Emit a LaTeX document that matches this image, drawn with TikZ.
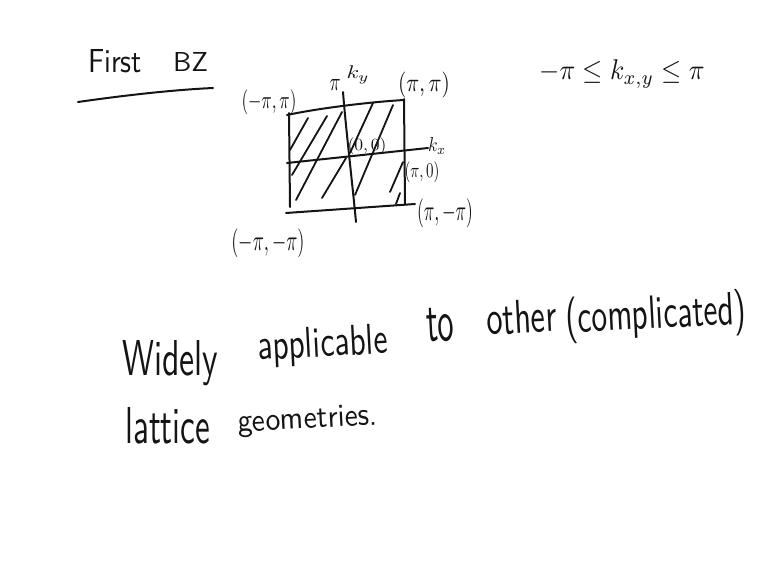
\documentclass[tikz,border=0pt]{standalone}
\usepackage{graphicx}
\newcommand{\hwword}[3]{\resizebox{#1pt}{#2pt}{\sffamily #3}}
\newcommand{\hwmath}[3]{\resizebox*{#1pt}{#2pt}{$#3$}}
\begin{document}
\begin{tikzpicture}[x=1pt,y=-1pt,
  ink/.style={draw=black!92,line width=2pt,line cap=round,line join=round},
  hatch/.style={draw=black!92,line width=1.8pt,line cap=round},
  word/.style={inner sep=0pt,anchor=base west,text=black!92},
  lab/.style={inner sep=0pt,anchor=center,text=black!92}]
\useasboundingbox[fill=white] (0,0) rectangle (768,578);

% title
\node[word] (first) at (88,73) {\hwword{54}{23}{First}};
\node[word] (bz) at (173,72) {\hwword{35}{19}{BZ}};
\draw[ink] (78,102) .. controls (120,96) and (170,90) .. (213,88);

% range formula
\node[lab] (range) at (622,74) {\hwmath{165}{28}{-\pi \le k_{x,y} \le \pi}};

% Brillouin zone box
\draw[ink] (287,115) .. controls (320,108) and (370,102) .. (404,100);
\draw[ink] (289,113) -- (290,207);
\draw[ink] (404,99) -- (405,204);
\draw[ink] (286,213) -- (415,204);
\draw[ink] (287,163) -- (428,148);
\draw[ink] (343,92) .. controls (346,130) and (352,180) .. (356,222);

% hatching
\draw[hatch] (290,150) -- (308,118);
\draw[hatch] (292,175) -- (327,116);
\draw[hatch] (296,200) -- (342,112);
\draw[hatch] (322,198) -- (346,158);
\draw[hatch] (350,153) -- (373,103);
\draw[hatch] (355,195) -- (393,105);
\draw[hatch] (390,192) -- (403,162);
\draw[hatch] (396,204) -- (400,193);

% labels
\node[lab] (mpp) at (269,102) {\hwmath{55}{25}{(-\pi,\pi)}};
\node[lab] (pp) at (424,85) {\hwmath{52}{26}{(\pi,\pi)}};
\node[lab] (piy) at (335,85) {\hwmath{11}{11}{\pi}};
\node[lab] (ky) at (358,75) {\hwmath{23}{18}{k_y}};
\node[lab] (oo) at (367,146) {\hwmath{39}{17}{(0,0)}};
\node[lab] (kx) at (437,146) {\hwmath{18}{17}{k_x}};
\node[lab] (po) at (422,172) {\hwmath{35}{21}{(\pi,0)}};
\node[lab] (pm) at (445,213) {\hwmath{56}{29}{(\pi,-\pi)}};
\node[lab] (mm) at (268,243) {\hwmath{73}{29}{(-\pi,-\pi)}};

% sentence
\node[word] (w1) at (122,375) {\hwword{96}{35}{Widely}};
\node[word,rotate=3] (w2) at (258,360) {\hwword{130}{30}{applicable}};
\node[word,rotate=3] (w3) at (427,342) {\hwword{28}{33}{to}};
\node[word,rotate=3] (w4) at (487,335) {\hwword{70}{33}{other}};
\node[word,rotate=3] (w5) at (566,333) {\hwword{181}{35}{(complicated)}};
\node[word] (w6) at (125,443) {\hwword{85}{36}{lattice}};
\node[word,rotate=3] (w7) at (238,432) {\hwword{140}{21}{geometries.}};
\end{tikzpicture}
\end{document}
